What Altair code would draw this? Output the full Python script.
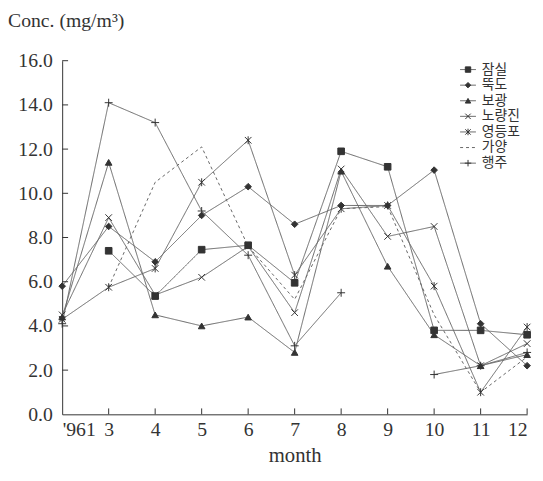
import json
import altair as alt
import pandas as pd

# ---- data ----
months = ["'961", "3", "4", "5", "6", "7", "8", "9", "10", "11", "12"]
series_names = ["잠실", "뚝도", "보광", "노량진", "영등포", "가양", "행주"]

jamsil = [None, 7.4, 5.35, 7.45, 7.65, 5.95, 11.9, 11.2, 3.8, 3.8, 3.6]
ttukdo = [5.8, 8.5, 6.9, 9.0, 10.3, 8.6, 9.45, 9.45, 11.05, 4.1, 2.2]
bogwang = [4.4, 11.4, 4.5, 4.0, 4.4, 2.8, 11.0, 6.7, 3.6, 2.2, 2.7]
noryangjin = [4.5, 8.9, 5.4, 6.2, 7.6, 4.6, 11.1, 8.05, 8.5, 2.2, 3.2]
yeongdeungpo = [4.3, 5.75, 6.6, 10.5, 12.4, 6.3, 9.3, 9.45, 5.8, 1.0, 3.95]
gayang = [None, 5.75, 10.5, 12.1, 7.6, 5.2, 9.3, 9.4, 4.5, 1.0, 2.6]
haengju = [4.1, 14.1, 13.2, 9.2, 7.2, 3.1, 5.5, None, 1.8, 2.2, 2.8]

y_ticks = [0, 2, 4, 6, 8, 10, 12, 14, 16]

all_vals = [jamsil, ttukdo, bogwang, noryangjin, yeongdeungpo, gayang, haengju]

# ---- styling ----
LINE = "#666666"
MARK = "#333333"
TXT = "#333333"
SERIF = "Liberation Serif"
W, H = 472, 359

X_PATH = "M-1,-1L1,1M-1,1L1,-1"
AST_PATH = "M-1,-1L1,1M-1,1L1,-1M0,-1.2L0,1.2"
PLUS_PATH = "M-1.2,0L1.2,0M0,-1.2L0,1.2"
marker_names = ["잠실", "뚝도", "보광", "노량진", "영등포", "행주"]
marker_shapes = ["square", "diamond", "triangle-up", X_PATH, AST_PATH, PLUS_PATH]
dashes = [[1, 0], [1, 0], [1, 0], [1, 0], [1, 0], [3, 3], [1, 0]]

rows = []
for name, vals in zip(series_names, all_vals):
    seg = 0
    for i, v in enumerate(vals):
        if v is None:
            seg += 1
            continue
        rows.append({"series": name, "idx": i, "value": v, "seg": f"{name}-{seg}"})
df = pd.DataFrame(rows)
pts_df = df[df["series"] != "가양"]

x_enc = alt.X(
    "idx:Q",
    scale=alt.Scale(domain=[0, 10], nice=False, zero=False),
    axis=alt.Axis(
        values=list(range(11)),
        labelExpr=f"{json.dumps(months, ensure_ascii=False)}[datum.value]",
        labelFlush=True,
        tickSize=0,
        grid=False,
        labelFont=SERIF,
        labelFontSize=20,
        labelColor=TXT,
        labelPadding=5,
        domainColor=MARK,
        title="month",
        titleFont=SERIF,
        titleFontSize=21,
        titleFontWeight="normal",
        titleColor=TXT,
        titlePadding=6,
    ),
)
y_enc = alt.Y(
    "value:Q",
    scale=alt.Scale(domain=[0, 16], nice=False),
    axis=alt.Axis(
        values=y_ticks,
        format=".1f",
        tickSize=0,
        grid=False,
        labelFont=SERIF,
        labelFontSize=20,
        labelColor=TXT,
        labelPadding=10,
        domainColor=MARK,
        title=None,
    ),
)

dash_scale = alt.Scale(domain=series_names, range=dashes)
shape_scale = alt.Scale(domain=marker_names, range=marker_shapes)

lines = alt.Chart(df).mark_line(color=LINE, strokeWidth=1).encode(
    x=x_enc,
    y=y_enc,
    detail="seg:N",
    strokeDash=alt.StrokeDash("series:N", scale=dash_scale, legend=None),
)
points = alt.Chart(pts_df).mark_point(
    filled=True, fill=MARK, stroke=MARK, strokeWidth=1, size=45, opacity=1
).encode(
    x=x_enc,
    y=y_enc,
    shape=alt.Shape("series:N", scale=shape_scale, legend=None),
)

ytick_df = pd.DataFrame({"value": y_ticks[1:]})
yticks = alt.Chart(ytick_df).mark_rule(color=MARK, strokeWidth=1).encode(
    y=y_enc, x=alt.value(0), x2=alt.value(6)
)
xtick_df = pd.DataFrame({"idx": list(range(1, 11))})
xticks = alt.Chart(xtick_df).mark_rule(color=MARK, strokeWidth=1).encode(
    x=x_enc, y=alt.value(H), y2=alt.value(H - 6)
)

inner = alt.layer(lines, points, yticks, xticks)

# ---- legend ----
leg_df = pd.DataFrame({"series": series_names, "row": list(range(len(series_names)))})
leg_y = alt.Y(
    "row:Q",
    scale=alt.Scale(domain=[0, len(series_names) - 1], range=[9, 104], nice=False, zero=False),
    axis=None,
)
leg_line = alt.Chart(leg_df).mark_rule(color=LINE, strokeWidth=1).encode(
    y=leg_y,
    x=alt.value(404),
    x2=alt.value(420),
    strokeDash=alt.StrokeDash("series:N", scale=dash_scale, legend=None),
)
leg_pts = alt.Chart(leg_df[leg_df["series"] != "가양"]).mark_point(
    filled=True, fill=MARK, stroke=MARK, strokeWidth=1, size=30, opacity=1
).encode(
    y=leg_y,
    x=alt.value(412),
    shape=alt.Shape("series:N", scale=shape_scale, legend=None),
)
leg_txt = alt.Chart(leg_df).mark_text(
    align="left", baseline="middle", font="Noto Sans CJK KR", fontSize=14, color=TXT
).encode(y=leg_y, x=alt.value(426), text="series:N")
legend = alt.layer(leg_line, leg_pts, leg_txt)

chart = (
    alt.layer(inner, legend)
    .resolve_scale(x="independent", y="independent")
    .properties(
        width=W,
        height=H,
        autosize=alt.AutoSizeParams(type="none"),
        padding={"left": 55, "top": 50, "right": 8, "bottom": 52},
        title=alt.TitleParams(
            "Conc. (mg/m³)",
            anchor="start",
            frame="group",
            dx=-55,
            offset=20,
            font=SERIF,
            fontSize=20,
            fontWeight="normal",
            color=TXT,
        ),
        background="white",
    )
    .configure_view(stroke=None)
)

chart.save("out.html", embed_options={"renderer": "svg", "actions": False})
